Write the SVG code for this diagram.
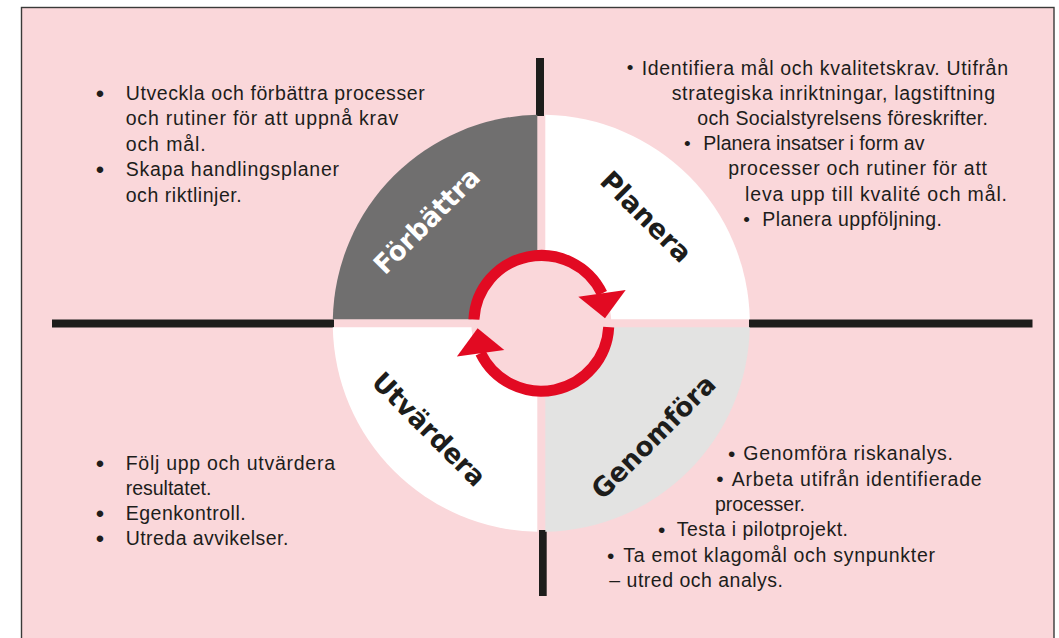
<svg xmlns="http://www.w3.org/2000/svg" width="1059" height="638" viewBox="0 0 1059 638">
  <style>
    .panel { fill: #fad7da; stroke: #3a3a39; stroke-width: 1.4; }
    .hub { fill: #fad7da; }
    .axis { fill: #1d1d1b; }
    .q-dark { fill: #706f6f; }
    .q-white { fill: #ffffff; }
    .q-light { fill: #e3e3e2; }
    .label { font-family: "DejaVu Sans", "Liberation Sans", sans-serif; font-weight: bold; font-size: 27px; text-anchor: middle; fill: #1d1d1b; }
    .label.inv { fill: #ffffff; }
    .body { font-family: "Liberation Sans", "Noto Sans", sans-serif; font-size: 19.5px; fill: #1d1d1b; }
    .dot { font-family: "Liberation Sans", "Noto Sans", sans-serif; fill: #1d1d1b; text-anchor: middle; }
    .dot.l { font-size: 24px; }
    .dot.m { font-size: 21px; }
    .dot.s { font-size: 19px; }
    .ring { fill: none; stroke: #e20a22; stroke-width: 11; stroke-linecap: butt; }
    .head { fill: #e20a22; }
  </style>
  <defs>
    <!-- one half of the cycle: arc plus its arrowhead -->
    <g id="half-cycle">
      <path class="ring" d="M473.9 319.5 A67.5 67.5 0 0 1 602 293.4"/>
      <polygon class="head" points="578.3,296.7 625.7,290 605,318.3"/>
    </g>
  </defs>

  <!-- background panel -->
  <rect class="panel" x="21.5" y="7.5" width="1032.5" height="645"/>

  <!-- axis bars -->
  <g id="axes">
    <rect class="axis" x="536" y="58" width="8" height="58"/>
    <rect class="axis" x="52" y="319.5" width="282" height="8"/>
    <rect class="axis" x="749" y="319.5" width="283.5" height="8"/>
    <rect class="axis" x="539" y="530" width="7.7" height="66"/>
  </g>

  <!-- quadrants -->
  <g id="forbattra">
    <path class="q-dark" d="M537.3 319.3 V114.8 A208.5 208.5 0 0 0 332.8 319.3 Z"/>
    <text class="label inv" transform="translate(426.7 220.7) rotate(-45)" y="9.5" textLength="137" lengthAdjust="spacingAndGlyphs">Förbättra</text>
  </g>
  <g id="planera">
    <path class="q-white" d="M545.3 319.3 V114.8 A208.5 208.5 0 0 1 749.8 319.3 Z"/>
    <text class="label" transform="translate(646.2 216.7) rotate(45)" y="9.5" textLength="116" lengthAdjust="spacingAndGlyphs">Planera</text>
  </g>
  <g id="utvardera">
    <path class="q-white" d="M537.3 327.3 V531.8 A208.5 208.5 0 0 1 332.8 327.3 Z"/>
    <text class="label" transform="translate(429.2 429.2) rotate(45)" y="9.5" textLength="148" lengthAdjust="spacingAndGlyphs">Utvärdera</text>
  </g>
  <g id="genomfora">
    <path class="q-light" d="M545.3 327.3 V531.8 A208.5 208.5 0 0 0 749.8 327.3 Z"/>
    <text class="label" transform="translate(653.3 436.7) rotate(-45)" y="9.5" textLength="162" lengthAdjust="spacingAndGlyphs">Genomföra</text>
  </g>

  <!-- open centre inside the cycle -->
  <circle class="hub" cx="541.3" cy="323.3" r="70"/>

  <!-- cycle arrows -->
  <g id="connectors">
    <use href="#half-cycle"/>
    <use href="#half-cycle" transform="rotate(180 541.3 323.3)"/>
  </g>

  <!-- text blocks -->
  <g id="text-forbattra">
    <text class="dot l" x="100" y="101.7">•</text>
    <text class="body" x="125.7" y="100" textLength="299" lengthAdjust="spacing">Utveckla och förbättra processer</text>
    <text class="body" x="125.7" y="125" textLength="272.6" lengthAdjust="spacing">och rutiner för att uppnå krav</text>
    <text class="body" x="125.7" y="150.5" textLength="80" lengthAdjust="spacing">och mål.</text>
    <text class="dot l" x="100" y="177.7">•</text>
    <text class="body" x="125.7" y="176" textLength="213.3" lengthAdjust="spacing">Skapa handlingsplaner</text>
    <text class="body" x="125.7" y="201.5" textLength="116" lengthAdjust="spacing">och riktlinjer.</text>
  </g>

  <g id="text-planera">
    <text class="dot s" x="630" y="74">•</text>
    <text class="body" x="641.7" y="74.5" textLength="366.3" lengthAdjust="spacing">Identifiera mål och kvalitetskrav. Utifrån</text>
    <text class="body" x="671.7" y="99.5" textLength="323.3" lengthAdjust="spacing">strategiska inriktningar, lagstiftning</text>
    <text class="body" x="697.3" y="124.5" textLength="290.7" lengthAdjust="spacing">och Socialstyrelsens föreskrifter.</text>
    <text class="dot s" x="687.3" y="149.5">•</text>
    <text class="body" x="703.3" y="150">Planera insatser i form av</text>
    <text class="body" x="728.3" y="175" textLength="258.7" lengthAdjust="spacing">processer och rutiner för att</text>
    <text class="body" x="745" y="200.5" textLength="262" lengthAdjust="spacing">leva upp till kvalité och mål.</text>
    <text class="dot s" x="746.7" y="225.5">•</text>
    <text class="body" x="762.3" y="226" textLength="179.7" lengthAdjust="spacing">Planera uppföljning.</text>
  </g>

  <g id="text-utvardera">
    <text class="dot l" x="100" y="471.7">•</text>
    <text class="body" x="125.7" y="470" textLength="209.3" lengthAdjust="spacing">Följ upp och utvärdera</text>
    <text class="body" x="125.7" y="495">resultatet.</text>
    <text class="dot l" x="100" y="521.7">•</text>
    <text class="body" x="125.7" y="520" textLength="120" lengthAdjust="spacing">Egenkontroll.</text>
    <text class="dot l" x="100" y="546.7">•</text>
    <text class="body" x="125.7" y="545" textLength="162.6" lengthAdjust="spacing">Utreda avvikelser.</text>
  </g>

  <g id="text-genomfora">
    <text class="dot m" x="731.7" y="460.7">•</text>
    <text class="body" x="743.3" y="460" textLength="209.7" lengthAdjust="spacing">Genomföra riskanalys.</text>
    <text class="dot m" x="720" y="486.2">•</text>
    <text class="body" x="731.7" y="485.5" textLength="250" lengthAdjust="spacing">Arbeta utifrån identifierade</text>
    <text class="body" x="715" y="510.5" textLength="90" lengthAdjust="spacing">processer.</text>
    <text class="dot m" x="661.7" y="536.7">•</text>
    <text class="body" x="676.7" y="536" textLength="171.3" lengthAdjust="spacing">Testa i pilotprojekt.</text>
    <text class="dot m" x="610.7" y="562.7">•</text>
    <text class="body" x="623.3" y="562" textLength="311.7" lengthAdjust="spacing">Ta emot klagomål och synpunkter</text>
    <text class="body" x="609.3" y="587" textLength="173.7" lengthAdjust="spacing">– utred och analys.</text>
  </g>
</svg>
